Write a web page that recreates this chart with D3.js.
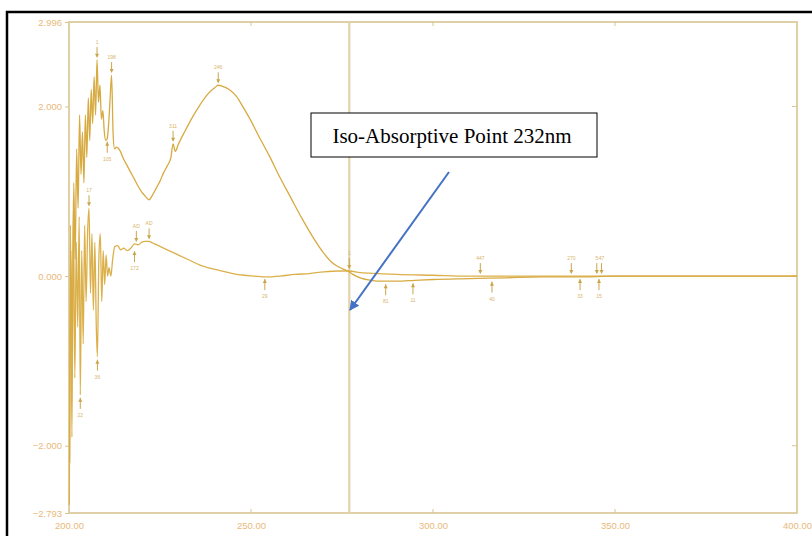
<!DOCTYPE html>
<html>
<head>
<meta charset="utf-8">
<script src="https://cdn.jsdelivr.net/npm/d3@7"></script>
<style>
  body { margin: 0; background: #fff; }
  svg { display: block; }
</style>
</head>
<body>
<div id="chart"></div>
<script>
const width = 812, height = 536;

// x range of the scan (nm) and absorbance range
const xTicks = [200, 250, 300, 350, 400];
const yTicks = [-2.793, -2, 0, 2, 2.996];

// spectrum A (upper trace)
const wlA = [200.2, 200.5, 200.9, 201.3, 201.7, 202.1, 202.5, 202.9, 203.3, 203.7, 204.1, 204.5, 204.9,
  205.3, 205.7, 206.1, 206.5, 206.9, 207.3, 207.7, 208.1, 208.5, 208.9, 209.3, 209.7, 210.1, 210.5,
  210.9, 211.3, 211.7, 212.1, 212.5, 213, 214, 215, 216, 217, 218, 219, 220, 221, 222, 223, 224, 225,
  226, 227, 228, 228.6, 229.2, 230, 232, 234, 236, 238, 240, 241, 242, 244, 246, 248, 250, 252, 255,
  258, 261, 264, 267, 270, 272, 274, 276, 277, 278, 280, 283, 286, 290, 295, 300, 310, 320, 330, 340,
  350, 360, 380, 400];
const absA = [-2.2, 0.3, -0.9, 1.1, 0.2, 1.5, 0.8, 1.9, 1.2, 1.7, 1.1, 1.9, 1.4,
  2.1, 1.6, 2.2, 1.8, 2.35, 1.9, 2.55, 2.05, 2.25, 1.85, 1.95, 1.7, 1.6, 1.62,
  1.8, 2.1, 2.37, 1.7, 1.5, 1.52, 1.48, 1.38, 1.3, 1.22, 1.14, 1.06, 0.99, 0.94, 0.9, 0.96, 1.04, 1.12,
  1.22, 1.3, 1.4, 1.56, 1.47, 1.55, 1.72, 1.88, 2.02, 2.14, 2.22, 2.25, 2.24, 2.2, 2.12, 1.98, 1.83, 1.66, 1.42,
  1.16, 0.92, 0.68, 0.46, 0.27, 0.17, 0.11, 0.07, 0.05, 0.02, -0.02, -0.05, -0.06, -0.06, -0.05, -0.04, -0.03, -0.02, -0.01, -0.01,
  0, 0, 0, 0];

// spectrum B (lower trace)
const wlB = [200.1, 200.4, 200.8, 201.2, 201.6, 202, 202.4, 202.8, 203.1, 203.5, 203.9, 204.3, 204.7,
  205.1, 205.5, 205.9, 206.3, 206.7, 207.1, 207.5, 207.8, 208.2, 208.6, 209, 209.4, 209.8, 210.2,
  210.6, 211, 211.5, 212, 212.6, 213.4, 214.2, 215, 216, 217, 218, 219, 220, 221, 222, 223, 225, 227,
  230, 233, 236, 239, 242, 245, 248, 251, 254, 258, 262, 266, 270, 274, 277, 280, 285, 290, 300, 310,
  320, 340, 360, 380, 400];
const absB = [-2.7, 0.6, -1.9, 0.9, -1.2, 0.4, -0.6, 0.7, -1.4, 0.3, -0.8, 0.6, -0.3,
  0.5, 0.8, -0.2, 0.5, -0.4, 0.4, -0.6, -0.95, 0.2, 0.5, -0.3, 0.3, -0.1, 0.25,
  0, 0.1, 0, 0.2, 0.35, 0.36, 0.31, 0.33, 0.3, 0.33, 0.38, 0.37, 0.4, 0.41, 0.41, 0.39, 0.35, 0.31,
  0.25, 0.19, 0.13, 0.09, 0.06, 0.03, 0.01, 0, -0.01, 0, 0.02, 0.03, 0.05, 0.06, 0.06, 0.04, 0.03, 0.02, 0.01, 0,
  0, 0, 0, 0, 0];

// peak / valley picks: wavelength, absorbance, label
const peakWl = [207.7, 211.7, 228.6, 241, 205.5, 218.5, 222, 277, 313, 338, 345, 346.3];
const peakAbs = [2.55, 2.37, 1.56, 2.25, 0.8, 0.38, 0.41, 0.06, 0.0, 0.0, 0.0, 0.0];
const peakLbl = ["1", "198", "311", "246", "17", "AD", "AD", "1", "447", "270", "5", "47"];
const valleyWl = [210.5, 218, 253.8, 287, 294.5, 316.2, 340.4, 345.6, 203.1, 207.8];
const valleyAbs = [1.62, 0.33, 0.0, -0.06, -0.05, -0.03, 0.0, 0.0, -1.4, -0.95];
const valleyLbl = ["105", "172", "29", "81", "11", "40", "33", "15", "22", "36"];

const svg = d3.select("#chart").append("svg")
  .attr("width", width).attr("height", height);

svg.append("rect").attr("width", width).attr("height", height).attr("fill", "#fff");

const x = d3.scaleLinear().domain([200, 400]).range([69, 797]);
const y = d3.scaleLinear().domain([-2.793, 2.996]).range([513, 22]);

const axisCol = "#d9c592", labelCol = "#e9b97a";

// plot frame
svg.append("rect")
  .attr("x", x(200)).attr("y", y(2.996))
  .attr("width", x(400) - x(200)).attr("height", y(-2.793) - y(2.996))
  .attr("fill", "none").attr("stroke", axisCol).attr("stroke-width", 1.6);

// axes
const xAxis = svg.append("g").attr("transform", `translate(0,${y(-2.793)})`)
  .call(d3.axisBottom(x).tickValues(xTicks).tickFormat(d3.format(".2f")).tickSize(0).tickPadding(9));
const yAxis = svg.append("g").attr("transform", `translate(${x(200)},0)`)
  .call(d3.axisLeft(y).tickValues(yTicks).tickFormat(d3.format(".3f")).tickSize(4).tickPadding(3));
[xAxis, yAxis].forEach(g => {
  g.select(".domain").remove();
  g.selectAll("line").attr("stroke", axisCol);
  g.selectAll("text").attr("fill", labelCol).style("font-family", "Liberation Sans, Arial, sans-serif")
    .style("font-size", "9.5px");
});

// small inner tick marks on bottom/top/right
svg.append("g").selectAll("line").data(xTicks.slice(1, 4)).join("line")
  .attr("x1", d => x(d)).attr("x2", d => x(d))
  .attr("y1", y(-2.793)).attr("y2", y(-2.793) - 4)
  .attr("stroke", axisCol);
svg.append("g").selectAll("line").data(xTicks.slice(1, 4)).join("line")
  .attr("x1", d => x(d)).attr("x2", d => x(d))
  .attr("y1", y(2.996)).attr("y2", y(2.996) + 4)
  .attr("stroke", axisCol);
svg.append("g").selectAll("line").data([-2, 0, 2]).join("line")
  .attr("x1", x(400)).attr("x2", x(400) - 5)
  .attr("y1", d => y(d)).attr("y2", d => y(d))
  .attr("stroke", axisCol);

// cursor line
svg.append("line")
  .attr("x1", x(277)).attr("x2", x(277))
  .attr("y1", y(2.996)).attr("y2", y(-2.793))
  .attr("stroke", "#e2d3aa").attr("stroke-width", 2.2);

const line = d3.line().x(d => x(d[0])).y(d => y(d[1])).curve(d3.curveMonotoneX);

svg.append("path")
  .datum(d3.zip(wlB, absB))
  .attr("d", line)
  .attr("fill", "none").attr("stroke", "#dbb04a").attr("stroke-width", 1.3);

svg.append("path")
  .datum(d3.zip(wlA, absA))
  .attr("d", line)
  .attr("fill", "none").attr("stroke", "#d7aa42").attr("stroke-width", 1.3);

// peak pick markers
const mk = svg.append("g").attr("stroke", "#c9a64a").attr("fill", "#c9a64a");
peakWl.forEach((w, i) => {
  const px = x(w), py = y(peakAbs[i]);
  mk.append("line").attr("x1", px).attr("x2", px).attr("y1", py - 13).attr("y2", py - 3);
  mk.append("path").attr("d", `M${px - 2},${py - 6}L${px + 2},${py - 6}L${px},${py - 2}Z`).attr("stroke", "none");
  mk.append("text").attr("x", px).attr("y", py - 16).attr("text-anchor", "middle")
    .attr("stroke", "none").attr("fill", "#d9b46a")
    .style("font-size", "5px").style("font-family", "Liberation Sans, sans-serif").text(peakLbl[i]);
});
valleyWl.forEach((w, i) => {
  const px = x(w), py = y(valleyAbs[i]);
  mk.append("line").attr("x1", px).attr("x2", px).attr("y1", py + 14).attr("y2", py + 3);
  mk.append("path").attr("d", `M${px - 2},${py + 7}L${px + 2},${py + 7}L${px},${py + 3}Z`).attr("stroke", "none");
  mk.append("text").attr("x", px).attr("y", py + 22).attr("text-anchor", "middle")
    .attr("stroke", "none").attr("fill", "#d9b46a")
    .style("font-size", "5px").style("font-family", "Liberation Sans, sans-serif").text(valleyLbl[i]);
});

// annotation
svg.append("rect").attr("x", 311).attr("y", 113).attr("width", 286).attr("height", 44)
  .attr("fill", "#fff").attr("stroke", "#000").attr("stroke-width", 1);
svg.append("text").attr("x", 452).attr("y", 143).attr("text-anchor", "middle")
  .style("font-family", "Liberation Serif, Times New Roman, serif").style("font-size", "21px")
  .attr("fill", "#000").text("Iso-Absorptive Point 232nm");

svg.append("defs").append("marker")
  .attr("id", "ah").attr("viewBox", "0 0 10 10").attr("refX", 9).attr("refY", 5)
  .attr("markerWidth", 5).attr("markerHeight", 5).attr("orient", "auto")
  .append("path").attr("d", "M0,0L10,5L0,10Z").attr("fill", "#4472c4");
svg.append("line").attr("x1", 449).attr("y1", 172).attr("x2", 350).attr("y2", 310)
  .attr("stroke", "#4472c4").attr("stroke-width", 2).attr("marker-end", "url(#ah)");

// outer border
svg.append("rect").attr("x", 7).attr("y", 12).attr("width", 830).attr("height", 560)
  .attr("fill", "none").attr("stroke", "#000").attr("stroke-width", 2.5);
</script>
</body>
</html>
